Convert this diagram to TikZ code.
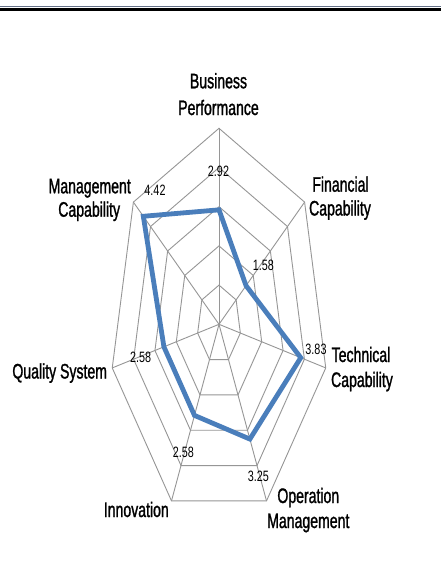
\documentclass[tikz,border=0pt]{standalone}
\usepackage{fontspec}
\setmainfont{Liberation Sans}
\newfontfamily\narrowfont[FakeStretch=0.67,FakeBold=1.2]{Liberation Sans}
\newfontfamily\numfont[FakeStretch=0.72]{Liberation Sans}
\definecolor{gridgray}{RGB}{150,150,150}
\definecolor{seriesblue}{RGB}{74,126,187}
\definecolor{rulegray}{RGB}{100,112,135}
\begin{document}
\begin{tikzpicture}[x=1pt,y=-1pt,
  grid/.style={draw=gridgray,line width=0.9pt},
  series/.style={draw=seriesblue,line width=4.8pt,line join=miter},
  axlabel/.style={font=\narrowfont\fontsize{21}{25}\selectfont,inner sep=0pt,anchor=base},
  vallabel/.style={font=\numfont\fontsize{15}{16}\selectfont,inner sep=0pt}]
\useasboundingbox (0,0) rectangle (441,566);
\fill[white] (0,0) rectangle (441,566);
% top rule
\draw[rulegray,line width=1.4pt] (0,6.5) -- (441,6.5);
\draw[black,line width=3pt] (0,9.8) -- (441,9.8);
% chart geometry
\def\cx{219}\def\cy{324.3}\def\rx{21.9}\def\ry{39.2}
\coordinate (c) at (\cx,\cy);
\foreach \k in {0,...,6}{
  \coordinate (a\k) at ({\cx+5*\rx*cos(90-\k*360/7)},{\cy-5*\ry*sin(90-\k*360/7)});
}
% rings
\foreach \v in {1,...,5}{
  \draw[grid] ({\cx+\v*\rx*cos(90)},{\cy-\v*\ry*sin(90)})
    \foreach \k in {1,...,6}{ -- ({\cx+\v*\rx*cos(90-\k*360/7)},{\cy-\v*\ry*sin(90-\k*360/7)}) } -- cycle;
}
% spokes
\foreach \k in {0,...,6}{ \draw[grid] (c) -- (a\k); }
% data
\foreach \v [count=\k from 0] in {2.92,1.58,3.83,3.25,2.58,2.58,4.42}{
  \coordinate (d\k) at ({\cx+\v*\rx*cos(90-\k*360/7)},{\cy-\v*\ry*sin(90-\k*360/7)});
}
\draw[series] (d0) -- (d1) -- (d2) -- (d3) -- (d4) -- (d5) -- (d6) -- cycle;
% value labels
\node[vallabel] (v0) at (218.5,171.5) {2.92};
\node[vallabel] (v1) at (263.3,265) {1.58};
\node[vallabel] (v2) at (316,349) {3.83};
\node[vallabel] (v3) at (258.3,476) {3.25};
\node[vallabel] (v4) at (183.3,452.5) {2.58};
\node[vallabel] (v5) at (140.7,357.5) {2.58};
\node[vallabel] (v6) at (155,190) {4.42};
% axis labels
\node[axlabel] (l0a) at (218.5,88.3) {Business};
\node[axlabel] (l0b) at (218.5,115) {Performance};
\node[axlabel] (l1a) at (340.5,191.7) {Financial};
\node[axlabel] (l1b) at (340,215.5) {Capability};
\node[axlabel] (l2a) at (361,362) {Technical};
\node[axlabel] (l2b) at (362,387) {Capability};
\node[axlabel] (l3a) at (308.3,503) {Operation};
\node[axlabel] (l3b) at (308.3,528) {Management};
\node[axlabel] (l4) at (136.3,517) {Innovation};
\node[axlabel] (l5) at (59.7,378.5) {Quality System};
\node[axlabel] (l6a) at (89.7,193.3) {Management};
\node[axlabel] (l6b) at (89.2,216.7) {Capability};
\end{tikzpicture}
\end{document}
